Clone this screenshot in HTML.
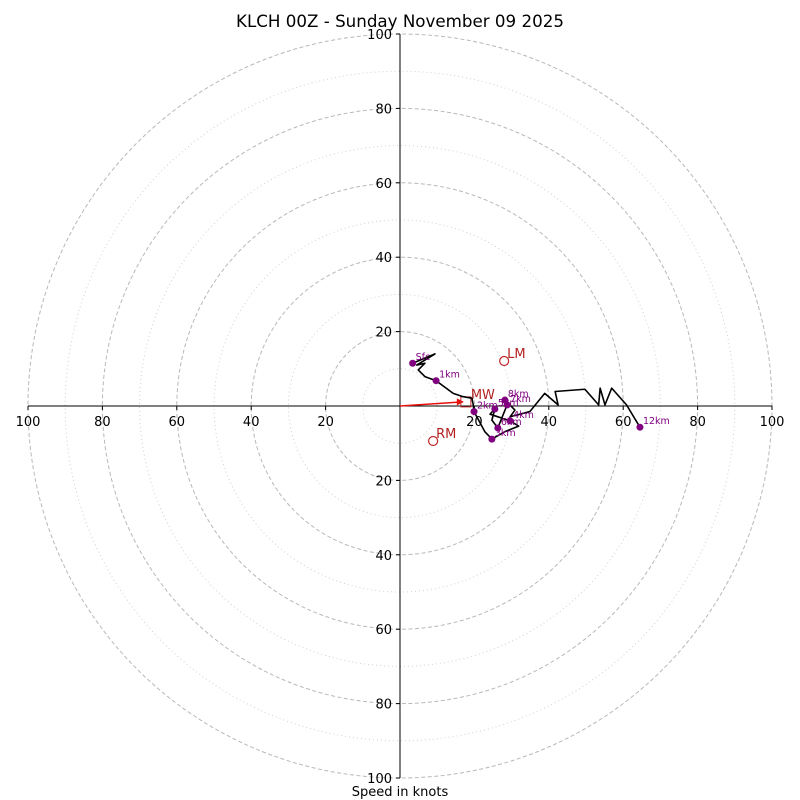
<!DOCTYPE html>
<html><head><meta charset="utf-8"><style>
body{margin:0;background:#fff}
svg{display:block;font-family:"DejaVu Sans","Liberation Sans",sans-serif}
</style></head><body>
<svg id="c" width="800" height="800" viewBox="0 0 800 800">
<rect width="800" height="800" fill="#fff"/>
<text x="400" y="27" text-anchor="middle" font-size="16.7">KLCH 00Z - Sunday November 09 2025</text>
<text x="400" y="796" text-anchor="middle" font-size="13">Speed in knots</text>
<g id="grid"></g><g id="axes"></g><g id="trace"></g>
</svg>
<script>
const ticks=[20,40,60,80,100];
const minorRings=[10,30,50,70,90];
const uWind=[3.4,9.4,4.5,6.7,4.9,6.7,9.7,14.3,17.0,19.3,19.7,19.9,22.8,24.7,28.2,31.9,29.6,24.2,25.5,24.7,26.3,27.7,28.8,28.2,30.9,29.6,34.9,38.9,42.5,41.7,49.7,53.4,53.8,55.1,56.9,60.9,64.5];
const vWind=[11.5,14.0,11.0,11.5,9.7,7.9,6.8,3.4,2.5,2.1,0.3,-1.5,-6.9,-8.9,-6.9,-5.4,-4.0,-2.2,-0.8,-3.8,-5.9,-2.4,0.3,1.6,-1.1,-2.9,-1.5,3.4,0.3,3.9,4.5,0.3,4.8,0.3,4.8,0.3,-5.7];
const heightLabels=["Sfc","1km","2km","3km","4km","5km","6km","7km","8km","12km"];
const heightIdx=[0,6,11,13,16,18,20,22,23,36];
const lmUV=[28,12.1], rmUV=[8.9,-9.4], mwUV=[17.7,1.1];
const NS="http://www.w3.org/2000/svg";
const cx=400,cy=406,sc=3.72;
const X=u=>cx+u*sc, Y=v=>cy-v*sc;
function mk(p,t,a){const e=document.createElementNS(NS,t);for(const k in a)e.setAttribute(k,a[k]);p.appendChild(e);return e;}
const grid=document.getElementById('grid'),axes=document.getElementById('axes'),tr=document.getElementById('trace');
minorRings.forEach(r=>{const e=mk(grid,'circle',{cx,cy,r:r*sc,fill:'none',stroke:'#d0d0d0','stroke-width':1,'stroke-dasharray':'1,3'});

});
ticks.forEach(r=>{const e=mk(grid,'circle',{cx,cy,r:r*sc,fill:'none',stroke:'#b8b8b8','stroke-width':1,'stroke-dasharray':'4,2.5'});

});
let ax=mk(axes,'line',{x1:X(-100),y1:cy,x2:X(100),y2:cy,stroke:'#000','stroke-width':1});


ax=mk(axes,'line',{x1:cx,y1:Y(100),x2:cx,y2:Y(-100),stroke:'#000','stroke-width':1});


ticks.forEach(t=>{[-1,1].forEach(s=>{
 mk(axes,'line',{x1:X(s*t),y1:cy,x2:X(s*t),y2:cy+4,stroke:'#000'});
 let e=mk(axes,'text',{x:X(s*t),y:cy+20,'text-anchor':'middle','font-size':13});e.textContent=t;
 
 
 mk(axes,'line',{x1:cx-4,y1:Y(s*t),x2:cx,y2:Y(s*t),stroke:'#000'});
 e=mk(axes,'text',{x:cx-8,y:Y(s*t)+5,'text-anchor':'end','font-size':13});e.textContent=t;
 
 
});});
let ar=mk(tr,'line',{x1:cx,y1:cy,x2:X(mwUV[0])-3,y2:Y(mwUV[1]),stroke:'#e8120c','stroke-width':1.5});


mk(tr,'polygon',{points:`${X(mwUV[0])-2},${Y(mwUV[1])} ${X(mwUV[0])-9},${Y(mwUV[1])-3.5} ${X(mwUV[0])-9},${Y(mwUV[1])+3.5}`,fill:'#e8120c'});
let mw=mk(tr,'rect',{x:X(mwUV[0])-5,y:Y(mwUV[1])-5,width:10,height:10,fill:'none',stroke:'#c0282a','stroke-width':1});


let t=mk(tr,'text',{x:X(mwUV[0])+5,y:Y(mwUV[1])-3,'font-size':13,fill:'#b22222'});t.textContent='MW';


const pts=uWind.map((u,i)=>X(u)+','+Y(vWind[i])).join(' ');
let pl=mk(tr,'polyline',{points:pts,fill:'none',stroke:'#000','stroke-width':1.6,'stroke-linejoin':'round'});


heightIdx.forEach((idx,k)=>{
 const d=mk(tr,'circle',{cx:X(uWind[idx]),cy:Y(vWind[idx]),r:3.5,fill:'#800080'});
 
 
 const l=mk(tr,'text',{x:X(uWind[idx])+3,y:Y(vWind[idx])-3,'font-size':9.5,fill:'#800080'});l.textContent=heightLabels[k];
 
 
});
[[lmUV,'LM'],[rmUV,'RM']].forEach(([p,n])=>{
 const c=mk(tr,'circle',{cx:X(p[0]),cy:Y(p[1]),r:4.5,fill:'none',stroke:'#c0282a','stroke-width':1.2});
 
 
 const l=mk(tr,'text',{x:X(p[0])+3,y:Y(p[1])-3,'font-size':13,fill:'#b22222'});l.textContent=n;
 
 
});
</script>
</body></html>
